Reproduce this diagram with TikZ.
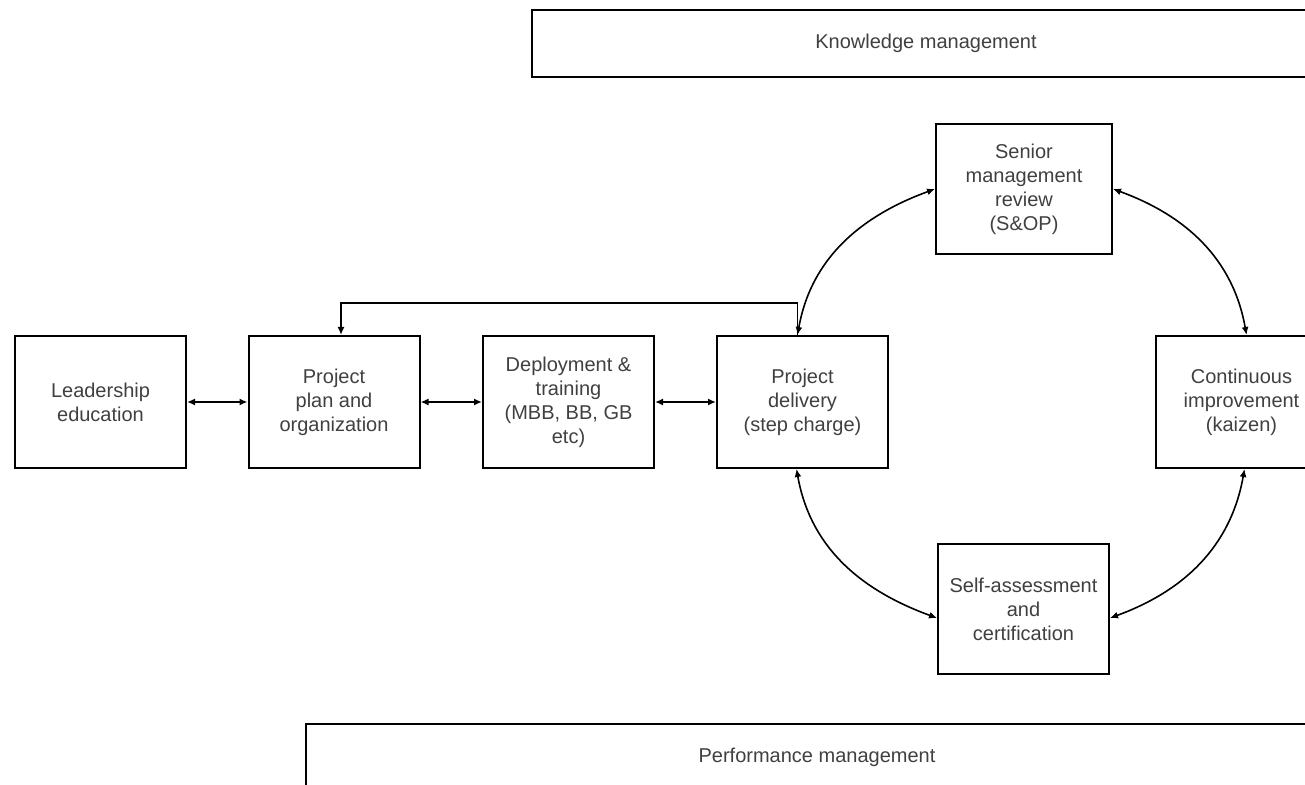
\documentclass[tikz,border=0pt]{standalone}
\usepackage{fontspec}
\setmainfont{Liberation Sans}
\usetikzlibrary{arrows.meta}

\begin{document}
\begin{tikzpicture}[x=0.5pt, y=-0.5pt,
		font=\fontsize{10}{12}\selectfont, text=black!75,
		box/.style={draw, line width=1pt, inner sep=0pt, minimum width=85.5pt, minimum height=66pt, align=center},
		band/.style={draw, line width=1pt, inner sep=0pt, minimum height=33.5pt},
		>={Latex[length=4pt,width=3.5pt]},
		link/.style={line width=0.8pt, <->}]
	\useasboundingbox (0,0) rectangle (1305,785);
	\clip (0,0) rectangle (1305,785);
	\node[band, minimum width=394pt] (know) at (926,43.5) {Knowledge management};
	\node[band, minimum width=511pt] (perf) at (817,757.5) {Performance management};
	\foreach \n/\x/\txt in {lead/100.5/{Leadership\\education},
			plan/334/{Project\\plan and\\organization},
			deploy/568.5/{Deployment \&\\training\\(MBB, BB, GB\\etc)},
			deliver/802.5/{Project\\delivery\\(step charge)}}
		\node[box] (\n) at (\x,402) {\txt};
	\node[box, minimum width=88pt, minimum height=65pt] (senior) at (1024,189) {Senior\\management\\review\\(S\&OP)};
	\node[box] (cont) at (1241.5,402) {Continuous\\improvement\\(kaizen)};
	\node[box, minimum height=65pt] (self) at (1023.5,609) {Self-assessment\\and\\certification};
	\foreach \a/\b in {lead/plan, plan/deploy, deploy/deliver}
		\draw[link] (\a) -- (\b);
	\draw[line width=0.8pt, ->] ([xshift=-2.5pt]deliver.north) -- ++(0,-32) -| ([xshift=3.5pt]plan.north);
	\draw[link] (senior.west) to[out=200, in=80] ([xshift=-2.5pt]deliver.north);
	\draw[link] (senior.east) to[out=-20, in=100] ([xshift=2.5pt]cont.north);
	\draw[link] ([xshift=-3pt]deliver.south) to[out=-80, in=160] ([yshift=-4.5pt]self.west);
	\draw[link] ([yshift=-4.5pt]self.east) to[out=20, in=-100] ([xshift=1.5pt]cont.south);
\end{tikzpicture}
\end{document}
